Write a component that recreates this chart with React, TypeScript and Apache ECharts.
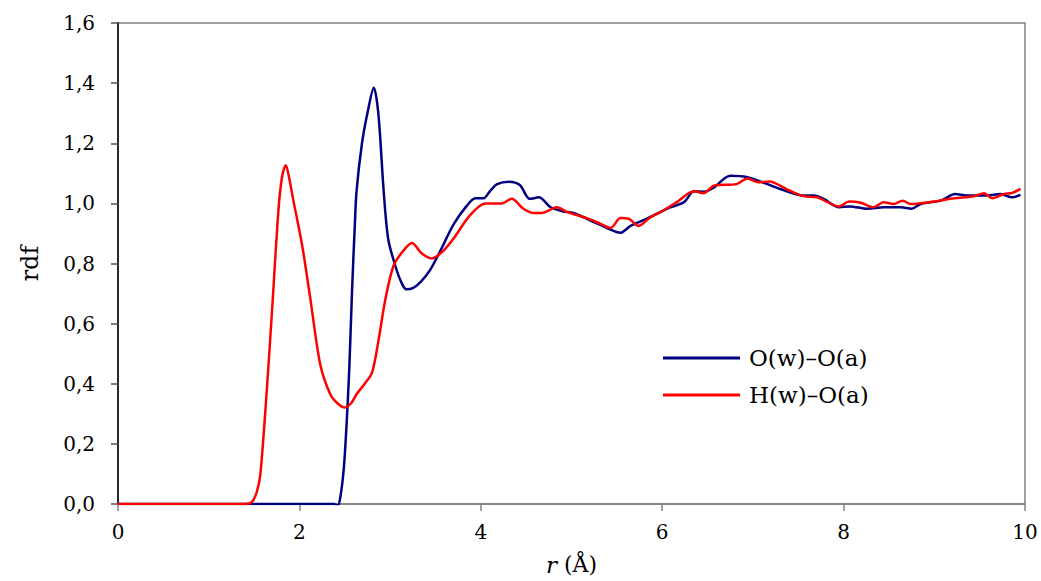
import React, { useEffect, useRef } from "react";
import * as echarts from "echarts";

const seriesNames = ["O(w)–O(a)", "H(w)–O(a)"];

const oxygenR = [0, 0.5, 1.0, 1.5, 2.0, 2.3, 2.38, 2.42, 2.45, 2.49, 2.52, 2.55, 2.58, 2.61, 2.63, 2.69, 2.75, 2.82, 2.87, 2.93, 2.98, 3.06, 3.12, 3.18, 3.25, 3.34, 3.44, 3.55, 3.7, 3.84, 3.94, 4.03, 4.1, 4.18, 4.31, 4.43, 4.54, 4.64, 4.77, 4.91, 5.02, 5.21, 5.39, 5.54, 5.65, 5.83, 6.05, 6.24, 6.35, 6.46, 6.57, 6.75, 6.94, 7.16, 7.3, 7.56, 7.67, 7.78, 7.95, 8.07, 8.26, 8.44, 8.63, 8.75, 8.85, 9.07, 9.23, 9.36, 9.58, 9.73, 9.86, 9.95];
const oxygenG = [0, 0, 0, 0, 0, 0, 0, -0.005, 0.02, 0.12, 0.265, 0.45, 0.707, 0.92, 1.04, 1.2, 1.3, 1.385, 1.3, 1.037, 0.88, 0.79, 0.74, 0.714, 0.718, 0.74, 0.778, 0.84, 0.93, 0.99, 1.017, 1.017, 1.04, 1.064, 1.072, 1.061, 1.015, 1.02, 0.987, 0.973, 0.968, 0.943, 0.918, 0.902, 0.925, 0.949, 0.982, 1.004, 1.04, 1.039, 1.053, 1.092, 1.087, 1.064, 1.048, 1.026, 1.026, 1.015, 0.987, 0.99, 0.982, 0.987, 0.987, 0.982, 0.998, 1.009, 1.031, 1.026, 1.026, 1.031, 1.02, 1.028];

const hydrogenR = [0, 0.5, 1.0, 1.4, 1.45, 1.49, 1.53, 1.57, 1.64, 1.7, 1.77, 1.81, 1.85, 1.89, 1.93, 2.03, 2.12, 2.23, 2.34, 2.42, 2.5, 2.57, 2.63, 2.72, 2.8, 2.87, 2.95, 3.04, 3.15, 3.24, 3.35, 3.46, 3.58, 3.7, 3.88, 4.05, 4.23, 4.34, 4.47, 4.58, 4.67, 4.84, 4.95, 5.17, 5.32, 5.43, 5.54, 5.63, 5.74, 5.87, 5.98, 6.16, 6.35, 6.46, 6.57, 6.82, 6.94, 7.06, 7.19, 7.3, 7.41, 7.56, 7.71, 7.95, 8.06, 8.19, 8.33, 8.44, 8.55, 8.65, 8.74, 8.99, 9.22, 9.44, 9.55, 9.64, 9.77, 9.86, 9.95];
const hydrogenG = [0, 0, 0, 0, 0.002, 0.012, 0.04, 0.1, 0.376, 0.651, 0.982, 1.09, 1.127, 1.08, 1.015, 0.861, 0.684, 0.464, 0.365, 0.335, 0.321, 0.335, 0.365, 0.4, 0.436, 0.541, 0.684, 0.794, 0.844, 0.868, 0.833, 0.817, 0.84, 0.883, 0.96, 1.0, 1.0, 1.015, 0.982, 0.968, 0.968, 0.987, 0.971, 0.951, 0.932, 0.918, 0.951, 0.949, 0.925, 0.954, 0.971, 1.004, 1.04, 1.034, 1.059, 1.064, 1.083, 1.07, 1.073, 1.059, 1.042, 1.024, 1.02, 0.99, 1.006, 1.002, 0.987, 1.004, 0.998, 1.009, 0.998, 1.006, 1.017, 1.024, 1.034, 1.017, 1.031, 1.035, 1.048];

const xTicks = { min: 0, max: 10, interval: 2 };
const yTicks = { min: 0, max: 1.6, interval: 0.2 };

const FONT = "DejaVu Serif";

export default function App() {
  const ref = useRef<HTMLDivElement>(null);
  useEffect(() => {
    if (!ref.current) return;
    const chart = echarts.init(ref.current, null, { renderer: "svg" });
    const pair = (xs: number[], ys: number[]) => xs.map((x, i) => [x, ys[i]]);
    chart.setOption({
      animation: false,
      backgroundColor: "#ffffff",
      textStyle: { fontFamily: FONT },
      grid: {
        left: 118,
        right: 16,
        top: 23,
        bottom: 74,
        show: true,
        borderColor: "#808080",
        borderWidth: 1.5,
      },
      legend: {
        orient: "vertical",
        left: 658,
        top: 340,
        itemWidth: 77,
        itemHeight: 3,
        itemGap: 11,
        icon: "rect",
        data: seriesNames,
        textStyle: {
          fontFamily: FONT,
          fontSize: 23,
          color: "#000",
          padding: [0, 0, 0, 4],
          lineHeight: 26,
        },
      },
      xAxis: {
        type: "value",
        min: xTicks.min,
        max: xTicks.max,
        interval: xTicks.interval,
        name: "{i|r} (Å)",
        nameLocation: "middle",
        nameGap: 49,
        nameTextStyle: {
          fontFamily: FONT,
          fontSize: 22,
          color: "#000",
          rich: {
            i: { fontFamily: FONT, fontStyle: "italic", fontSize: 23, color: "#000" },
          },
        },
        axisLine: { show: true, lineStyle: { color: "#808080", width: 1.5 } },
        axisTick: { show: true, inside: false, length: 7, lineStyle: { color: "#808080", width: 1.5 } },
        axisLabel: { fontFamily: FONT, fontSize: 20, color: "#000", margin: 18 },
        splitLine: { show: false },
      },
      yAxis: {
        type: "value",
        min: yTicks.min,
        max: yTicks.max,
        interval: yTicks.interval,
        name: "rdf",
        nameLocation: "middle",
        nameGap: 76,
        nameTextStyle: { fontFamily: FONT, fontSize: 24, color: "#000" },
        axisLine: { show: true, lineStyle: { color: "#000", width: 1.5 } },
        axisTick: { show: true, inside: false, length: 7, lineStyle: { color: "#555", width: 1.5 } },
        axisLabel: {
          fontFamily: FONT,
          fontSize: 20,
          color: "#000",
          margin: 23,
          formatter: (v: number) => v.toFixed(1).replace(".", ","),
        },
        splitLine: { show: false },
      },
      series: [
        {
          name: seriesNames[0],
          type: "line",
          data: pair(oxygenR, oxygenG),
          showSymbol: false,
          smooth: 0.3,
          lineStyle: { color: "#000080", width: 2.5 },
          itemStyle: { color: "#000080" },
          z: 2,
        },
        {
          name: seriesNames[1],
          type: "line",
          data: pair(hydrogenR, hydrogenG),
          showSymbol: false,
          smooth: 0.3,
          lineStyle: { color: "#ff0000", width: 2.5 },
          itemStyle: { color: "#ff0000" },
          z: 3,
        },
      ],
    });
    return () => chart.dispose();
  }, []);
  return (
    <div
      ref={ref}
      style={{ position: "absolute", left: 0, top: 0, width: 1041, height: 581 }}
    />
  );
}
